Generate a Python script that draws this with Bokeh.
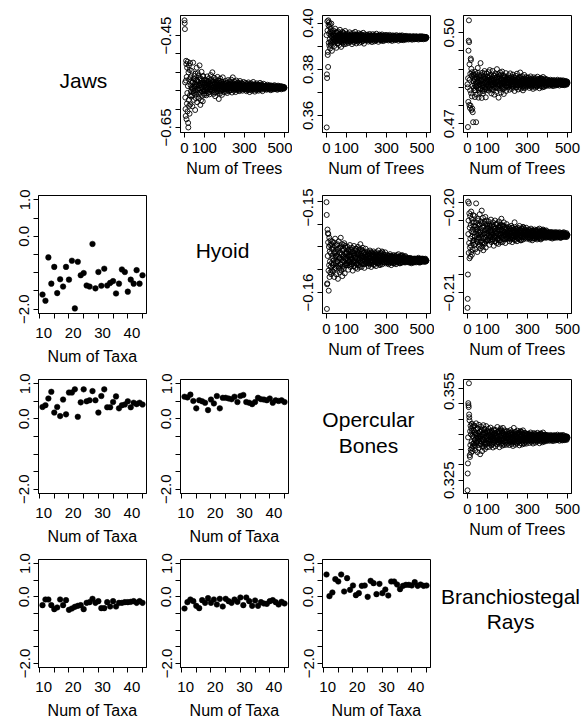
from bokeh.plotting import figure
from bokeh.layouts import row, column
from bokeh.models import Range1d, FixedTicker, Label
from bokeh.embed import file_html
from bokeh.resources import INLINE

MINUS = "\u2212"
FSP = "\u2007"

# ---------------- data ----------------
trees = list(range(1, 31)) + list(range(32, 501, 2))
trees_odd = list(range(31, 500, 2))
taxa = list(range(11, 46))

jaws_trees1 = [
    -0.417, -0.423, -0.436, -0.552, -0.585, -0.610, -0.625, -0.548, -0.505, -0.512,
    -0.632, -0.540, -0.598, -0.520, -0.575, -0.615, -0.507, -0.560, -0.640, -0.650,
    -0.530, -0.590, -0.515, -0.603, -0.545, -0.620, -0.525, -0.580, -0.510, -0.600,
    -0.541, -0.583, -0.527, -0.566, -0.604, -0.552, -0.509, -0.571, -0.590, -0.545,
    -0.562, -0.612, -0.533, -0.578, -0.556, -0.520, -0.595, -0.549, -0.568, -0.537,
    -0.586, -0.558, -0.515, -0.574, -0.601, -0.543, -0.565, -0.529, -0.581, -0.553,
    -0.593, -0.538, -0.570, -0.547, -0.579,
    -0.552, -0.571, -0.546, -0.563, -0.580, -0.557, -0.539, -0.566, -0.575, -0.549,
    -0.561, -0.543, -0.578, -0.555, -0.568, -0.536, -0.559, -0.572, -0.547, -0.530,
    -0.564, -0.551, -0.577, -0.542, -0.569, -0.556, -0.582, -0.545, -0.562, -0.574,
    -0.553, -0.566, -0.540, -0.571, -0.558, -0.588, -0.548, -0.565, -0.576, -0.544,
    -0.560, -0.570, -0.550, -0.579, -0.557, -0.541, -0.567, -0.554, -0.573, -0.562,
    -0.555, -0.568, -0.549, -0.572, -0.560, -0.553, -0.575, -0.562, -0.547, -0.566,
    -0.558, -0.571, -0.551, -0.564, -0.557, -0.569, -0.546, -0.563, -0.574, -0.554,
    -0.541, -0.565, -0.559, -0.570, -0.550, -0.567, -0.556, -0.573, -0.561, -0.548,
    -0.566, -0.558, -0.552, -0.569, -0.562, -0.555, -0.571, -0.559, -0.549, -0.564,
    -0.557, -0.568, -0.553, -0.562, -0.570, -0.556, -0.565, -0.551, -0.567, -0.560,
    -0.558, -0.567, -0.553, -0.564, -0.571, -0.560, -0.555, -0.569, -0.562, -0.552,
    -0.566, -0.559, -0.573, -0.556, -0.563, -0.568, -0.554, -0.561, -0.570, -0.557,
    -0.565, -0.551, -0.562, -0.567, -0.559, -0.572, -0.556, -0.564, -0.560, -0.569,
    -0.554, -0.566, -0.561, -0.557, -0.570, -0.563, -0.558, -0.567, -0.553, -0.565,
    -0.560, -0.568, -0.556, -0.562, -0.571, -0.559, -0.564, -0.555, -0.566, -0.561,
    -0.561, -0.566, -0.559, -0.564, -0.568, -0.562, -0.557, -0.565, -0.563, -0.560,
    -0.567, -0.562, -0.558, -0.565, -0.561, -0.569, -0.563, -0.559, -0.566, -0.562,
    -0.564, -0.560, -0.567, -0.563, -0.558, -0.565, -0.561, -0.566, -0.563, -0.560,
    -0.564, -0.568, -0.562, -0.559, -0.565, -0.563, -0.561, -0.566, -0.564, -0.560,
    -0.563, -0.567, -0.562, -0.565, -0.561, -0.564, -0.563, -0.566, -0.562, -0.564,
]
jaws_trees1_odd = [
    -0.558, -0.571, -0.549, -0.563, -0.580, -0.552, -0.566, -0.544, -0.575, -0.560,
    -0.538, -0.569, -0.555, -0.586, -0.561, -0.547, -0.573, -0.557, -0.532, -0.565,
    -0.551, -0.578, -0.559, -0.543, -0.568, -0.554, -0.591, -0.562, -0.548, -0.572,
    -0.556, -0.539, -0.567, -0.553, -0.576,
    -0.560, -0.553, -0.568, -0.557, -0.564, -0.549, -0.571, -0.562, -0.555, -0.566,
    -0.551, -0.559, -0.573, -0.556, -0.563, -0.547, -0.567, -0.558, -0.561, -0.554,
    -0.569, -0.557, -0.564, -0.550, -0.562, -0.574, -0.555, -0.566, -0.559, -0.552,
    -0.563, -0.570, -0.556, -0.561, -0.548, -0.567, -0.558, -0.564, -0.553, -0.560,
    -0.572, -0.557, -0.565, -0.551, -0.562, -0.568, -0.555, -0.563, -0.559, -0.566,
    -0.561, -0.556, -0.566, -0.559, -0.564, -0.553, -0.568, -0.560, -0.557, -0.565,
    -0.562, -0.555, -0.569, -0.558, -0.563, -0.552, -0.566, -0.560, -0.564, -0.557,
    -0.567, -0.559, -0.562, -0.554, -0.565, -0.561, -0.558, -0.568, -0.556, -0.563,
    -0.560, -0.566, -0.557, -0.562, -0.553, -0.564, -0.559, -0.567, -0.561, -0.556,
    -0.563, -0.558, -0.565, -0.560, -0.562, -0.555, -0.566, -0.559, -0.564, -0.561,
    -0.562, -0.558, -0.566, -0.560, -0.564, -0.557, -0.567, -0.561, -0.559, -0.565,
    -0.563, -0.558, -0.568, -0.560, -0.564, -0.556, -0.566, -0.562, -0.559, -0.565,
    -0.561, -0.567, -0.560, -0.563, -0.557, -0.565, -0.562, -0.559, -0.566, -0.561,
    -0.564, -0.558, -0.563, -0.560, -0.567, -0.562, -0.559, -0.565, -0.561, -0.563,
    -0.558, -0.566, -0.562, -0.560, -0.564, -0.561, -0.565, -0.559, -0.563, -0.562,
    -0.563, -0.561, -0.566, -0.562, -0.564, -0.560, -0.565, -0.563, -0.561, -0.566,
    -0.562, -0.564, -0.560, -0.565, -0.563, -0.562, -0.566, -0.561, -0.564, -0.563,
    -0.560, -0.565, -0.562, -0.564, -0.561, -0.566, -0.563, -0.562, -0.565, -0.561,
    -0.564, -0.563, -0.566, -0.562, -0.561, -0.565, -0.563, -0.564, -0.562, -0.565,
    -0.563, -0.561, -0.564, -0.563, -0.565, -0.562, -0.564, -0.563, -0.564, -0.563,
]

jaws_trees2 = [
    0.3948, 0.3548, 0.3778, 0.3762, 0.4008, 0.3968, 0.3862, 0.3875, 0.3810, 0.4012,
    0.3990, 0.3915, 0.4003, 0.3955, 0.3902, 0.3985, 0.3930, 0.3995, 0.3890, 0.3962,
    0.3920, 0.3975, 0.3905, 0.3945, 0.3998, 0.3912, 0.3958, 0.3880, 0.3940, 0.3965,
    0.3952, 0.3918, 0.3968, 0.3930, 0.3901, 0.3945, 0.3976, 0.3925, 0.3940, 0.3893,
    0.3958, 0.3934, 0.3912, 0.3964, 0.3928, 0.3947, 0.3905, 0.3938, 0.3971, 0.3921,
    0.3950, 0.3897, 0.3943, 0.3931, 0.3962, 0.3915, 0.3937, 0.3955, 0.3908, 0.3944,
    0.3926, 0.3966, 0.3933, 0.3910, 0.3949,
    0.3941, 0.3922, 0.3955, 0.3933, 0.3914, 0.3948, 0.3928, 0.3960, 0.3937, 0.3919,
    0.3945, 0.3931, 0.3952, 0.3909, 0.3939, 0.3926, 0.3957, 0.3935, 0.3917, 0.3947,
    0.3930, 0.3962, 0.3924, 0.3942, 0.3912, 0.3950, 0.3934, 0.3920, 0.3944, 0.3929,
    0.3956, 0.3938, 0.3915, 0.3946, 0.3927, 0.3953, 0.3932, 0.3918, 0.3949, 0.3936,
    0.3923, 0.3958, 0.3940, 0.3911, 0.3943, 0.3930, 0.3951, 0.3925, 0.3939, 0.3946,
    0.3939, 0.3926, 0.3950, 0.3933, 0.3920, 0.3944, 0.3930, 0.3953, 0.3936, 0.3923,
    0.3947, 0.3932, 0.3941, 0.3918, 0.3938, 0.3952, 0.3928, 0.3944, 0.3935, 0.3921,
    0.3948, 0.3931, 0.3940, 0.3925, 0.3954, 0.3936, 0.3929, 0.3945, 0.3933, 0.3919,
    0.3942, 0.3937, 0.3950, 0.3927, 0.3939, 0.3946, 0.3924, 0.3934, 0.3951, 0.3930,
    0.3943, 0.3922, 0.3938, 0.3947, 0.3929, 0.3941, 0.3935, 0.3926, 0.3949, 0.3937,
    0.3938, 0.3929, 0.3946, 0.3934, 0.3925, 0.3942, 0.3931, 0.3949, 0.3936, 0.3927,
    0.3944, 0.3933, 0.3940, 0.3923, 0.3937, 0.3947, 0.3930, 0.3943, 0.3935, 0.3926,
    0.3945, 0.3932, 0.3939, 0.3928, 0.3948, 0.3936, 0.3931, 0.3942, 0.3934, 0.3924,
    0.3941, 0.3937, 0.3946, 0.3929, 0.3938, 0.3944, 0.3927, 0.3935, 0.3947, 0.3932,
    0.3940, 0.3926, 0.3939, 0.3943, 0.3930, 0.3941, 0.3936, 0.3928, 0.3945, 0.3937,
    0.3937, 0.3932, 0.3942, 0.3935, 0.3929, 0.3940, 0.3934, 0.3944, 0.3937, 0.3931,
    0.3941, 0.3935, 0.3939, 0.3928, 0.3936, 0.3943, 0.3933, 0.3940, 0.3936, 0.3930,
    0.3942, 0.3934, 0.3938, 0.3931, 0.3943, 0.3937, 0.3933, 0.3940, 0.3935, 0.3929,
    0.3939, 0.3937, 0.3942, 0.3932, 0.3938, 0.3941, 0.3931, 0.3936, 0.3943, 0.3934,
    0.3939, 0.3930, 0.3938, 0.3941, 0.3933, 0.3939, 0.3936, 0.3932, 0.3940, 0.3937,
]
jaws_trees2_odd = [
    0.3938, 0.3925, 0.3950, 0.3931, 0.3944, 0.3917, 0.3957, 0.3935, 0.3922, 0.3946,
    0.3929, 0.3961, 0.3937, 0.3914, 0.3942, 0.3933, 0.3952, 0.3920, 0.3940, 0.3927,
    0.3955, 0.3936, 0.3918, 0.3947, 0.3930, 0.3943, 0.3924, 0.3959, 0.3934, 0.3921,
    0.3948, 0.3932, 0.3939, 0.3916, 0.3945,
    0.3936, 0.3928, 0.3945, 0.3932, 0.3940, 0.3924, 0.3948, 0.3934, 0.3929, 0.3943,
    0.3937, 0.3921, 0.3946, 0.3931, 0.3941, 0.3926, 0.3939, 0.3950, 0.3933, 0.3927,
    0.3944, 0.3935, 0.3923, 0.3942, 0.3930, 0.3947, 0.3936, 0.3925, 0.3940, 0.3932,
    0.3945, 0.3928, 0.3938, 0.3949, 0.3931, 0.3942, 0.3926, 0.3937, 0.3944, 0.3933,
    0.3922, 0.3941, 0.3935, 0.3929, 0.3946, 0.3934, 0.3939, 0.3927, 0.3943, 0.3936,
    0.3937, 0.3931, 0.3943, 0.3934, 0.3940, 0.3928, 0.3945, 0.3935, 0.3930, 0.3942,
    0.3936, 0.3927, 0.3944, 0.3933, 0.3939, 0.3929, 0.3941, 0.3946, 0.3934, 0.3930,
    0.3943, 0.3936, 0.3926, 0.3940, 0.3932, 0.3944, 0.3937, 0.3929, 0.3941, 0.3933,
    0.3945, 0.3931, 0.3938, 0.3946, 0.3932, 0.3942, 0.3928, 0.3937, 0.3943, 0.3934,
    0.3927, 0.3940, 0.3936, 0.3931, 0.3944, 0.3935, 0.3939, 0.3930, 0.3942, 0.3936,
    0.3937, 0.3932, 0.3941, 0.3935, 0.3939, 0.3930, 0.3943, 0.3936, 0.3933, 0.3940,
    0.3937, 0.3929, 0.3942, 0.3934, 0.3938, 0.3931, 0.3940, 0.3944, 0.3935, 0.3932,
    0.3941, 0.3936, 0.3930, 0.3939, 0.3933, 0.3942, 0.3937, 0.3931, 0.3940, 0.3934,
    0.3943, 0.3932, 0.3938, 0.3944, 0.3933, 0.3941, 0.3930, 0.3937, 0.3942, 0.3935,
    0.3929, 0.3939, 0.3936, 0.3932, 0.3942, 0.3935, 0.3938, 0.3931, 0.3941, 0.3936,
    0.3937, 0.3934, 0.3940, 0.3936, 0.3938, 0.3933, 0.3941, 0.3937, 0.3935, 0.3939,
    0.3937, 0.3932, 0.3940, 0.3935, 0.3938, 0.3934, 0.3939, 0.3942, 0.3936, 0.3933,
    0.3940, 0.3937, 0.3932, 0.3938, 0.3935, 0.3941, 0.3937, 0.3934, 0.3939, 0.3935,
    0.3941, 0.3933, 0.3938, 0.3942, 0.3934, 0.3940, 0.3932, 0.3937, 0.3941, 0.3936,
    0.3933, 0.3938, 0.3937, 0.3934, 0.3940, 0.3936, 0.3938, 0.3933, 0.3939, 0.3937,
]

jaws_trees3 = [
    0.4830, 0.4820, 0.4689, 0.4850, 0.4772, 0.4941, 0.4974, 0.5041, 0.4969, 0.4762,
    0.4896, 0.4845, 0.4752, 0.4810, 0.4865, 0.4760, 0.4915, 0.4910, 0.4800, 0.4881,
    0.4745, 0.4858, 0.4790, 0.4870, 0.4750, 0.4825, 0.4738, 0.4862, 0.4705, 0.4840,
    0.4862, 0.4810, 0.4847, 0.4788, 0.4871, 0.4823, 0.4705, 0.4855, 0.4796, 0.4840,
    0.4884, 0.4817, 0.4786, 0.4860, 0.4829, 0.4802, 0.4851, 0.4900, 0.4815, 0.4843,
    0.4785, 0.4868, 0.4826, 0.4799, 0.4857, 0.4834, 0.4808, 0.4874, 0.4820, 0.4848,
    0.4787, 0.4838, 0.4866, 0.4812, 0.4845,
    0.4855, 0.4822, 0.4870, 0.4809, 0.4843, 0.4877, 0.4816, 0.4838, 0.4861, 0.4800,
    0.4848, 0.4827, 0.4874, 0.4811, 0.4835, 0.4858, 0.4796, 0.4845, 0.4820, 0.4866,
    0.4831, 0.4805, 0.4852, 0.4880, 0.4818, 0.4840, 0.4863, 0.4786, 0.4829, 0.4850,
    0.4812, 0.4869, 0.4836, 0.4803, 0.4847, 0.4824, 0.4872, 0.4814, 0.4841, 0.4859,
    0.4798, 0.4833, 0.4856, 0.4819, 0.4845, 0.4867, 0.4808, 0.4837, 0.4852, 0.4826,
    0.4848, 0.4821, 0.4860, 0.4832, 0.4812, 0.4845, 0.4866, 0.4827, 0.4839, 0.4855,
    0.4815, 0.4842, 0.4829, 0.4862, 0.4824, 0.4836, 0.4851, 0.4808, 0.4844, 0.4830,
    0.4858, 0.4819, 0.4838, 0.4865, 0.4826, 0.4847, 0.4813, 0.4835, 0.4853, 0.4822,
    0.4841, 0.4869, 0.4831, 0.4816, 0.4849, 0.4828, 0.4857, 0.4834, 0.4810, 0.4843,
    0.4825, 0.4861, 0.4837, 0.4818, 0.4846, 0.4832, 0.4854, 0.4823, 0.4840, 0.4850,
    0.4843, 0.4825, 0.4852, 0.4833, 0.4818, 0.4846, 0.4829, 0.4856, 0.4837, 0.4821,
    0.4849, 0.4831, 0.4840, 0.4815, 0.4836, 0.4853, 0.4826, 0.4844, 0.4834, 0.4819,
    0.4850, 0.4828, 0.4841, 0.4823, 0.4855, 0.4835, 0.4827, 0.4847, 0.4832, 0.4817,
    0.4845, 0.4838, 0.4851, 0.4824, 0.4839, 0.4848, 0.4820, 0.4833, 0.4854, 0.4829,
    0.4842, 0.4822, 0.4837, 0.4849, 0.4828, 0.4843, 0.4834, 0.4825, 0.4846, 0.4836,
    0.4838, 0.4829, 0.4843, 0.4833, 0.4825, 0.4840, 0.4831, 0.4845, 0.4835, 0.4827,
    0.4842, 0.4832, 0.4837, 0.4824, 0.4836, 0.4844, 0.4830, 0.4839, 0.4834, 0.4826,
    0.4841, 0.4831, 0.4837, 0.4828, 0.4845, 0.4835, 0.4830, 0.4840, 0.4833, 0.4826,
    0.4839, 0.4836, 0.4842, 0.4829, 0.4835, 0.4840, 0.4828, 0.4834, 0.4843, 0.4831,
    0.4838, 0.4827, 0.4836, 0.4841, 0.4830, 0.4837, 0.4834, 0.4829, 0.4839, 0.4835,
]
jaws_trees3_odd = [
    0.4840, 0.4818, 0.4852, 0.4829, 0.4845, 0.4810, 0.4863, 0.4834, 0.4822, 0.4849,
    0.4826, 0.4868, 0.4837, 0.4812, 0.4843, 0.4831, 0.4857, 0.4815, 0.4839, 0.4824,
    0.4860, 0.4833, 0.4808, 0.4847, 0.4828, 0.4854, 0.4820, 0.4866, 0.4836, 0.4814,
    0.4850, 0.4830, 0.4842, 0.4817, 0.4856,
    0.4838, 0.4826, 0.4851, 0.4832, 0.4845, 0.4819, 0.4857, 0.4835, 0.4828, 0.4848,
    0.4840, 0.4815, 0.4853, 0.4830, 0.4843, 0.4822, 0.4846, 0.4860, 0.4834, 0.4825,
    0.4850, 0.4837, 0.4818, 0.4844, 0.4829, 0.4855, 0.4839, 0.4823, 0.4847, 0.4831,
    0.4858, 0.4827, 0.4841, 0.4862, 0.4830, 0.4849, 0.4820, 0.4836, 0.4852, 0.4833,
    0.4816, 0.4844, 0.4838, 0.4826, 0.4854, 0.4835, 0.4842, 0.4824, 0.4848, 0.4837,
    0.4837, 0.4828, 0.4846, 0.4833, 0.4842, 0.4823, 0.4850, 0.4835, 0.4829, 0.4844,
    0.4838, 0.4821, 0.4848, 0.4831, 0.4841, 0.4825, 0.4843, 0.4853, 0.4834, 0.4827,
    0.4845, 0.4836, 0.4820, 0.4840, 0.4830, 0.4849, 0.4837, 0.4826, 0.4843, 0.4832,
    0.4852, 0.4828, 0.4839, 0.4855, 0.4831, 0.4844, 0.4822, 0.4836, 0.4847, 0.4833,
    0.4819, 0.4841, 0.4837, 0.4828, 0.4850, 0.4834, 0.4840, 0.4826, 0.4845, 0.4836,
    0.4836, 0.4830, 0.4843, 0.4833, 0.4840, 0.4826, 0.4846, 0.4835, 0.4829, 0.4841,
    0.4837, 0.4824, 0.4845, 0.4832, 0.4839, 0.4827, 0.4842, 0.4848, 0.4834, 0.4828,
    0.4843, 0.4836, 0.4823, 0.4838, 0.4831, 0.4846, 0.4836, 0.4827, 0.4841, 0.4832,
    0.4847, 0.4829, 0.4838, 0.4849, 0.4831, 0.4842, 0.4825, 0.4835, 0.4844, 0.4833,
    0.4822, 0.4839, 0.4836, 0.4829, 0.4845, 0.4834, 0.4838, 0.4828, 0.4843, 0.4835,
    0.4835, 0.4831, 0.4839, 0.4833, 0.4837, 0.4829, 0.4841, 0.4834, 0.4831, 0.4838,
    0.4835, 0.4828, 0.4840, 0.4832, 0.4837, 0.4830, 0.4839, 0.4842, 0.4834, 0.4830,
    0.4839, 0.4835, 0.4828, 0.4837, 0.4832, 0.4841, 0.4835, 0.4830, 0.4838, 0.4833,
    0.4842, 0.4831, 0.4836, 0.4843, 0.4832, 0.4839, 0.4829, 0.4834, 0.4840, 0.4833,
    0.4828, 0.4837, 0.4835, 0.4831, 0.4840, 0.4834, 0.4836, 0.4830, 0.4839, 0.4834,
]

hyoid_trees1 = [
    -0.1501, -0.1515, -0.1618, -0.1591, -0.1590, -0.1531, -0.1560, -0.1535, -0.1545, -0.1536,
    -0.1576, -0.1598, -0.1550, -0.1570, -0.1540, -0.1583, -0.1555, -0.1566, -0.1548, -0.1578,
    -0.1543, -0.1572, -0.1557, -0.1580, -0.1547, -0.1568, -0.1552, -0.1576, -0.1544, -0.1563,
    -0.1550, -0.1577, -0.1545, -0.1568, -0.1583, -0.1556, -0.1541, -0.1573, -0.1560, -0.1580,
    -0.1548, -0.1566, -0.1553, -0.1585, -0.1571, -0.1544, -0.1562, -0.1578, -0.1551, -0.1569,
    -0.1540, -0.1575, -0.1558, -0.1547, -0.1582, -0.1565, -0.1552, -0.1574, -0.1559, -0.1546,
    -0.1579, -0.1563, -0.1549, -0.1570, -0.1557,
    -0.1556, -0.1570, -0.1550, -0.1564, -0.1575, -0.1553, -0.1567, -0.1559, -0.1548, -0.1572,
    -0.1561, -0.1555, -0.1569, -0.1551, -0.1563, -0.1576, -0.1557, -0.1566, -0.1549, -0.1571,
    -0.1560, -0.1554, -0.1573, -0.1562, -0.1552, -0.1568, -0.1558, -0.1574, -0.1550, -0.1565,
    -0.1557, -0.1570, -0.1553, -0.1563, -0.1547, -0.1567, -0.1560, -0.1572, -0.1555, -0.1564,
    -0.1551, -0.1569, -0.1561, -0.1556, -0.1573, -0.1559, -0.1566, -0.1552, -0.1568, -0.1562,
    -0.1559, -0.1568, -0.1555, -0.1565, -0.1571, -0.1557, -0.1563, -0.1569, -0.1554, -0.1566,
    -0.1560, -0.1572, -0.1556, -0.1564, -0.1558, -0.1567, -0.1561, -0.1555, -0.1570, -0.1562,
    -0.1557, -0.1566, -0.1559, -0.1571, -0.1563, -0.1556, -0.1568, -0.1560, -0.1565, -0.1554,
    -0.1567, -0.1561, -0.1558, -0.1570, -0.1562, -0.1557, -0.1566, -0.1563, -0.1555, -0.1569,
    -0.1560, -0.1564, -0.1558, -0.1567, -0.1561, -0.1565, -0.1556, -0.1568, -0.1562, -0.1564,
    -0.1561, -0.1567, -0.1559, -0.1565, -0.1569, -0.1560, -0.1564, -0.1568, -0.1558, -0.1566,
    -0.1562, -0.1570, -0.1560, -0.1565, -0.1561, -0.1567, -0.1563, -0.1559, -0.1568, -0.1564,
    -0.1560, -0.1566, -0.1562, -0.1569, -0.1564, -0.1559, -0.1567, -0.1563, -0.1565, -0.1558,
    -0.1566, -0.1562, -0.1561, -0.1568, -0.1564, -0.1560, -0.1566, -0.1563, -0.1559, -0.1567,
    -0.1562, -0.1565, -0.1561, -0.1566, -0.1563, -0.1565, -0.1560, -0.1567, -0.1563, -0.1564,
    -0.1563, -0.1566, -0.1562, -0.1565, -0.1567, -0.1563, -0.1565, -0.1567, -0.1562, -0.1566,
    -0.1564, -0.1568, -0.1563, -0.1566, -0.1564, -0.1567, -0.1565, -0.1563, -0.1567, -0.1565,
    -0.1563, -0.1566, -0.1564, -0.1567, -0.1565, -0.1563, -0.1566, -0.1564, -0.1566, -0.1562,
    -0.1566, -0.1564, -0.1564, -0.1567, -0.1565, -0.1563, -0.1566, -0.1565, -0.1563, -0.1566,
    -0.1564, -0.1566, -0.1564, -0.1566, -0.1565, -0.1566, -0.1564, -0.1566, -0.1565, -0.1565,
]
hyoid_trees1_odd = [
    -0.1560, -0.1570, -0.1553, -0.1565, -0.1557, -0.1574, -0.1549, -0.1562, -0.1568, -0.1555,
    -0.1571, -0.1559, -0.1547, -0.1566, -0.1561, -0.1552, -0.1573, -0.1563, -0.1556, -0.1569,
    -0.1550, -0.1564, -0.1576, -0.1558, -0.1567, -0.1554, -0.1572, -0.1561, -0.1548, -0.1566,
    -0.1557, -0.1570, -0.1563, -0.1551, -0.1568,
    -0.1562, -0.1557, -0.1568, -0.1560, -0.1565, -0.1554, -0.1570, -0.1561, -0.1556, -0.1566,
    -0.1563, -0.1553, -0.1569, -0.1559, -0.1564, -0.1555, -0.1567, -0.1571, -0.1560, -0.1557,
    -0.1566, -0.1562, -0.1552, -0.1565, -0.1558, -0.1569, -0.1563, -0.1555, -0.1567, -0.1559,
    -0.1570, -0.1556, -0.1564, -0.1572, -0.1558, -0.1566, -0.1553, -0.1562, -0.1568, -0.1560,
    -0.1554, -0.1565, -0.1561, -0.1557, -0.1569, -0.1562, -0.1564, -0.1556, -0.1567, -0.1561,
    -0.1563, -0.1559, -0.1567, -0.1561, -0.1565, -0.1557, -0.1568, -0.1562, -0.1558, -0.1566,
    -0.1563, -0.1556, -0.1568, -0.1560, -0.1565, -0.1558, -0.1566, -0.1569, -0.1561, -0.1559,
    -0.1566, -0.1563, -0.1557, -0.1565, -0.1560, -0.1567, -0.1563, -0.1558, -0.1566, -0.1561,
    -0.1568, -0.1559, -0.1564, -0.1569, -0.1560, -0.1566, -0.1557, -0.1563, -0.1567, -0.1561,
    -0.1556, -0.1565, -0.1562, -0.1559, -0.1567, -0.1562, -0.1564, -0.1559, -0.1566, -0.1562,
    -0.1564, -0.1561, -0.1567, -0.1563, -0.1565, -0.1560, -0.1567, -0.1563, -0.1561, -0.1566,
    -0.1564, -0.1560, -0.1567, -0.1562, -0.1565, -0.1561, -0.1566, -0.1568, -0.1563, -0.1561,
    -0.1566, -0.1564, -0.1560, -0.1565, -0.1562, -0.1567, -0.1564, -0.1561, -0.1566, -0.1563,
    -0.1567, -0.1561, -0.1565, -0.1568, -0.1562, -0.1566, -0.1560, -0.1564, -0.1567, -0.1563,
    -0.1560, -0.1565, -0.1564, -0.1561, -0.1567, -0.1563, -0.1565, -0.1561, -0.1566, -0.1564,
    -0.1565, -0.1563, -0.1566, -0.1564, -0.1565, -0.1563, -0.1566, -0.1564, -0.1563, -0.1566,
    -0.1565, -0.1563, -0.1567, -0.1564, -0.1565, -0.1563, -0.1566, -0.1567, -0.1564, -0.1563,
    -0.1566, -0.1565, -0.1563, -0.1565, -0.1564, -0.1566, -0.1565, -0.1563, -0.1566, -0.1564,
    -0.1567, -0.1563, -0.1565, -0.1567, -0.1564, -0.1566, -0.1563, -0.1565, -0.1566, -0.1564,
    -0.1563, -0.1565, -0.1565, -0.1563, -0.1566, -0.1564, -0.1565, -0.1563, -0.1566, -0.1565,
]

hyoid_trees2 = [
    -0.2117, -0.2107, -0.2080, -0.1999, -0.2035, -0.2020, -0.2056, -0.2001, -0.2045, -0.2012,
    -0.2062, -0.2028, -0.2050, -0.2015, -0.2040, -0.2060, -0.2025, -0.2048, -0.2010, -0.2055,
    -0.2032, -0.2018, -0.2058, -0.2038, -0.2022, -0.2052, -0.2030, -0.2045, -0.2014, -0.2042,
    -0.2022, -0.2047, -0.2015, -0.2038, -0.2052, -0.2027, -0.2001, -0.2043, -0.2030, -0.2055,
    -0.2018, -0.2036, -0.2024, -0.2049, -0.2040, -0.2013, -0.2033, -0.2051, -0.2021, -0.2039,
    -0.2009, -0.2045, -0.2028, -0.2017, -0.2053, -0.2035, -0.2023, -0.2046, -0.2031, -0.2016,
    -0.2050, -0.2034, -0.2020, -0.2042, -0.2026,
    -0.2028, -0.2042, -0.2021, -0.2036, -0.2047, -0.2025, -0.2039, -0.2031, -0.2019, -0.2044,
    -0.2033, -0.2026, -0.2041, -0.2022, -0.2035, -0.2048, -0.2029, -0.2038, -0.2020, -0.2043,
    -0.2032, -0.2024, -0.2045, -0.2034, -0.2023, -0.2040, -0.2030, -0.2046, -0.2021, -0.2037,
    -0.2027, -0.2042, -0.2025, -0.2035, -0.2018, -0.2039, -0.2031, -0.2044, -0.2026, -0.2036,
    -0.2022, -0.2041, -0.2033, -0.2027, -0.2045, -0.2030, -0.2038, -0.2024, -0.2040, -0.2034,
    -0.2031, -0.2040, -0.2027, -0.2037, -0.2043, -0.2029, -0.2035, -0.2041, -0.2026, -0.2038,
    -0.2032, -0.2044, -0.2028, -0.2036, -0.2030, -0.2039, -0.2033, -0.2022, -0.2042, -0.2034,
    -0.2029, -0.2038, -0.2031, -0.2043, -0.2035, -0.2028, -0.2040, -0.2032, -0.2037, -0.2026,
    -0.2039, -0.2033, -0.2030, -0.2042, -0.2034, -0.2029, -0.2038, -0.2035, -0.2027, -0.2041,
    -0.2032, -0.2036, -0.2030, -0.2039, -0.2033, -0.2037, -0.2028, -0.2040, -0.2034, -0.2036,
    -0.2032, -0.2039, -0.2030, -0.2036, -0.2041, -0.2031, -0.2035, -0.2040, -0.2029, -0.2037,
    -0.2033, -0.2042, -0.2031, -0.2036, -0.2032, -0.2039, -0.2034, -0.2030, -0.2040, -0.2035,
    -0.2031, -0.2038, -0.2033, -0.2041, -0.2035, -0.2030, -0.2039, -0.2034, -0.2036, -0.2029,
    -0.2038, -0.2033, -0.2032, -0.2040, -0.2035, -0.2031, -0.2037, -0.2034, -0.2030, -0.2039,
    -0.2033, -0.2036, -0.2032, -0.2038, -0.2034, -0.2037, -0.2031, -0.2039, -0.2034, -0.2036,
    -0.2034, -0.2038, -0.2033, -0.2036, -0.2039, -0.2034, -0.2036, -0.2039, -0.2033, -0.2037,
    -0.2035, -0.2040, -0.2034, -0.2037, -0.2035, -0.2038, -0.2036, -0.2033, -0.2039, -0.2036,
    -0.2034, -0.2037, -0.2035, -0.2039, -0.2036, -0.2034, -0.2038, -0.2035, -0.2037, -0.2033,
    -0.2038, -0.2035, -0.2035, -0.2039, -0.2036, -0.2034, -0.2037, -0.2036, -0.2034, -0.2038,
    -0.2035, -0.2037, -0.2035, -0.2038, -0.2036, -0.2037, -0.2035, -0.2038, -0.2036, -0.2036,
]
hyoid_trees2_odd = [
    -0.2033, -0.2042, -0.2026, -0.2038, -0.2030, -0.2046, -0.2022, -0.2035, -0.2041, -0.2028,
    -0.2044, -0.2032, -0.2020, -0.2039, -0.2034, -0.2025, -0.2047, -0.2036, -0.2029, -0.2043,
    -0.2023, -0.2037, -0.2049, -0.2031, -0.2040, -0.2027, -0.2045, -0.2034, -0.2021, -0.2039,
    -0.2030, -0.2043, -0.2036, -0.2024, -0.2041,
    -0.2034, -0.2029, -0.2040, -0.2032, -0.2037, -0.2026, -0.2042, -0.2033, -0.2028, -0.2038,
    -0.2035, -0.2025, -0.2041, -0.2031, -0.2036, -0.2027, -0.2039, -0.2043, -0.2032, -0.2029,
    -0.2038, -0.2034, -0.2024, -0.2037, -0.2030, -0.2041, -0.2035, -0.2027, -0.2039, -0.2031,
    -0.2042, -0.2028, -0.2036, -0.2044, -0.2030, -0.2038, -0.2025, -0.2034, -0.2040, -0.2032,
    -0.2026, -0.2037, -0.2033, -0.2029, -0.2041, -0.2034, -0.2036, -0.2028, -0.2039, -0.2033,
    -0.2035, -0.2031, -0.2039, -0.2033, -0.2037, -0.2029, -0.2040, -0.2034, -0.2030, -0.2038,
    -0.2035, -0.2028, -0.2040, -0.2032, -0.2037, -0.2030, -0.2038, -0.2041, -0.2033, -0.2031,
    -0.2038, -0.2035, -0.2029, -0.2037, -0.2032, -0.2040, -0.2035, -0.2030, -0.2038, -0.2033,
    -0.2041, -0.2031, -0.2036, -0.2042, -0.2032, -0.2038, -0.2029, -0.2035, -0.2039, -0.2033,
    -0.2028, -0.2037, -0.2034, -0.2031, -0.2039, -0.2034, -0.2036, -0.2031, -0.2038, -0.2034,
    -0.2036, -0.2032, -0.2039, -0.2034, -0.2037, -0.2031, -0.2039, -0.2035, -0.2032, -0.2038,
    -0.2036, -0.2031, -0.2040, -0.2033, -0.2037, -0.2032, -0.2038, -0.2040, -0.2034, -0.2032,
    -0.2038, -0.2036, -0.2031, -0.2037, -0.2033, -0.2039, -0.2036, -0.2032, -0.2038, -0.2034,
    -0.2040, -0.2032, -0.2036, -0.2041, -0.2033, -0.2038, -0.2031, -0.2035, -0.2039, -0.2034,
    -0.2031, -0.2037, -0.2035, -0.2032, -0.2039, -0.2035, -0.2036, -0.2032, -0.2038, -0.2035,
    -0.2036, -0.2034, -0.2038, -0.2035, -0.2037, -0.2033, -0.2038, -0.2036, -0.2034, -0.2037,
    -0.2036, -0.2033, -0.2039, -0.2035, -0.2037, -0.2034, -0.2038, -0.2039, -0.2035, -0.2034,
    -0.2038, -0.2036, -0.2033, -0.2037, -0.2035, -0.2038, -0.2036, -0.2034, -0.2037, -0.2035,
    -0.2039, -0.2034, -0.2036, -0.2039, -0.2035, -0.2038, -0.2034, -0.2036, -0.2038, -0.2035,
    -0.2033, -0.2037, -0.2036, -0.2034, -0.2038, -0.2036, -0.2037, -0.2034, -0.2038, -0.2036,
]

opercular_trees1 = [
    0.3217, 0.3272, 0.3305, 0.3390, 0.3502, 0.3495, 0.3489, 0.3567, 0.3465, 0.3456,
    0.3446, 0.3332, 0.3326, 0.3410, 0.3365, 0.3428, 0.3350, 0.3400, 0.3340, 0.3420,
    0.3375, 0.3435, 0.3355, 0.3412, 0.3345, 0.3395, 0.3360, 0.3425, 0.3370, 0.3430,
    0.3412, 0.3365, 0.3428, 0.3381, 0.3348, 0.3403, 0.3436, 0.3372, 0.3395, 0.3342,
    0.3420, 0.3386, 0.3355, 0.3431, 0.3377, 0.3408, 0.3335, 0.3392, 0.3425, 0.3368,
    0.3415, 0.3345, 0.3401, 0.3383, 0.3430, 0.3360, 0.3397, 0.3418, 0.3352, 0.3406,
    0.3375, 0.3427, 0.3388, 0.3358, 0.3410,
    0.3400, 0.3370, 0.3418, 0.3382, 0.3359, 0.3408, 0.3376, 0.3422, 0.3391, 0.3364,
    0.3412, 0.3385, 0.3398, 0.3357, 0.3389, 0.3416, 0.3372, 0.3404, 0.3380, 0.3361,
    0.3414, 0.3378, 0.3395, 0.3367, 0.3424, 0.3387, 0.3374, 0.3409, 0.3383, 0.3358,
    0.3406, 0.3392, 0.3419, 0.3369, 0.3396, 0.3411, 0.3363, 0.3384, 0.3421, 0.3377,
    0.3402, 0.3365, 0.3393, 0.3413, 0.3373, 0.3399, 0.3388, 0.3366, 0.3410, 0.3390,
    0.3395, 0.3372, 0.3410, 0.3383, 0.3365, 0.3403, 0.3377, 0.3414, 0.3389, 0.3368,
    0.3406, 0.3381, 0.3397, 0.3362, 0.3386, 0.3421, 0.3374, 0.3400, 0.3385, 0.3366,
    0.3408, 0.3379, 0.3393, 0.3370, 0.3412, 0.3388, 0.3375, 0.3404, 0.3384, 0.3364,
    0.3401, 0.3391, 0.3411, 0.3371, 0.3394, 0.3407, 0.3367, 0.3382, 0.3413, 0.3378,
    0.3398, 0.3369, 0.3390, 0.3405, 0.3376, 0.3396, 0.3387, 0.3370, 0.3402, 0.3389,
    0.3392, 0.3378, 0.3402, 0.3385, 0.3372, 0.3398, 0.3381, 0.3406, 0.3389, 0.3375,
    0.3400, 0.3383, 0.3394, 0.3370, 0.3387, 0.3404, 0.3379, 0.3397, 0.3386, 0.3373,
    0.3401, 0.3382, 0.3392, 0.3376, 0.3405, 0.3388, 0.3380, 0.3399, 0.3385, 0.3371,
    0.3396, 0.3390, 0.3403, 0.3377, 0.3393, 0.3400, 0.3374, 0.3384, 0.3406, 0.3381,
    0.3395, 0.3376, 0.3389, 0.3399, 0.3380, 0.3394, 0.3387, 0.3378, 0.3398, 0.3388,
    0.3390, 0.3382, 0.3396, 0.3386, 0.3379, 0.3393, 0.3384, 0.3398, 0.3389, 0.3380,
    0.3395, 0.3385, 0.3391, 0.3378, 0.3388, 0.3397, 0.3383, 0.3393, 0.3387, 0.3380,
    0.3396, 0.3384, 0.3390, 0.3381, 0.3399, 0.3388, 0.3383, 0.3394, 0.3386, 0.3379,
    0.3392, 0.3389, 0.3397, 0.3382, 0.3390, 0.3395, 0.3380, 0.3387, 0.3398, 0.3384,
    0.3391, 0.3381, 0.3389, 0.3394, 0.3383, 0.3391, 0.3388, 0.3382, 0.3393, 0.3389,
]
opercular_trees1_odd = [
    0.3392, 0.3370, 0.3405, 0.3381, 0.3398, 0.3362, 0.3415, 0.3387, 0.3374, 0.3401,
    0.3379, 0.3419, 0.3390, 0.3365, 0.3396, 0.3384, 0.3410, 0.3368, 0.3393, 0.3377,
    0.3413, 0.3386, 0.3360, 0.3400, 0.3380, 0.3407, 0.3372, 0.3417, 0.3389, 0.3366,
    0.3403, 0.3383, 0.3395, 0.3369, 0.3409,
    0.3391, 0.3378, 0.3404, 0.3384, 0.3397, 0.3371, 0.3410, 0.3388, 0.3380, 0.3401,
    0.3393, 0.3368, 0.3406, 0.3382, 0.3396, 0.3374, 0.3399, 0.3413, 0.3386, 0.3377,
    0.3403, 0.3390, 0.3370, 0.3397, 0.3381, 0.3408, 0.3392, 0.3375, 0.3400, 0.3383,
    0.3411, 0.3379, 0.3394, 0.3414, 0.3382, 0.3402, 0.3372, 0.3389, 0.3405, 0.3385,
    0.3369, 0.3398, 0.3391, 0.3378, 0.3407, 0.3388, 0.3395, 0.3376, 0.3401, 0.3390,
    0.3390, 0.3380, 0.3400, 0.3385, 0.3395, 0.3375, 0.3405, 0.3388, 0.3381, 0.3398,
    0.3391, 0.3373, 0.3403, 0.3384, 0.3394, 0.3377, 0.3397, 0.3407, 0.3387, 0.3379,
    0.3401, 0.3390, 0.3374, 0.3396, 0.3383, 0.3404, 0.3391, 0.3378, 0.3399, 0.3385,
    0.3406, 0.3381, 0.3393, 0.3408, 0.3383, 0.3400, 0.3376, 0.3389, 0.3402, 0.3386,
    0.3372, 0.3397, 0.3390, 0.3380, 0.3403, 0.3388, 0.3394, 0.3379, 0.3399, 0.3389,
    0.3389, 0.3383, 0.3396, 0.3386, 0.3393, 0.3380, 0.3399, 0.3388, 0.3383, 0.3395,
    0.3390, 0.3378, 0.3398, 0.3385, 0.3392, 0.3380, 0.3394, 0.3401, 0.3387, 0.3382,
    0.3396, 0.3389, 0.3379, 0.3393, 0.3384, 0.3398, 0.3390, 0.3381, 0.3395, 0.3386,
    0.3400, 0.3383, 0.3391, 0.3401, 0.3384, 0.3396, 0.3380, 0.3388, 0.3397, 0.3386,
    0.3378, 0.3393, 0.3389, 0.3383, 0.3398, 0.3387, 0.3392, 0.3382, 0.3395, 0.3389,
    0.3389, 0.3385, 0.3393, 0.3387, 0.3391, 0.3383, 0.3394, 0.3388, 0.3385, 0.3392,
    0.3390, 0.3382, 0.3395, 0.3386, 0.3391, 0.3384, 0.3392, 0.3396, 0.3388, 0.3384,
    0.3393, 0.3389, 0.3383, 0.3391, 0.3386, 0.3394, 0.3390, 0.3384, 0.3392, 0.3387,
    0.3395, 0.3385, 0.3390, 0.3396, 0.3386, 0.3393, 0.3383, 0.3389, 0.3394, 0.3387,
    0.3382, 0.3391, 0.3389, 0.3385, 0.3394, 0.3388, 0.3390, 0.3384, 0.3392, 0.3389,
]

hyoid_taxa = [
    -1.60, -1.77, -0.58, -1.30, -0.84, -1.56, -1.18, -1.38, -0.84, -1.19,
    -0.67, -1.98, -0.70, -1.07, -1.01, -1.35, -1.38, -0.21, -1.43, -0.98,
    -1.36, -0.89, -1.35, -1.28, -1.23, -1.57, -1.30, -0.91, -0.98, -1.52,
    -1.19, -1.30, -0.93, -1.30, -1.07,
]
opercular_taxa1 = [
    0.34, 0.39, 0.58, 0.77, 0.18, 0.34, 0.08, 0.55, 0.13, 0.75,
    0.75, 0.84, 0.06, 0.47, 0.84, 0.50, 0.53, 0.79, 0.53, 0.18,
    0.65, 0.84, 0.33, 0.33, 0.48, 0.64, 0.30, 0.39, 0.41, 0.50,
    0.33, 0.46, 0.42, 0.46, 0.41,
]
opercular_taxa2 = [
    0.63, 0.61, 0.69, 0.51, 0.30, 0.53, 0.50, 0.46, 0.25, 0.55,
    0.44, 0.65, 0.30, 0.60, 0.60, 0.58, 0.56, 0.63, 0.48, 0.65,
    0.68, 0.48, 0.46, 0.42, 0.48, 0.60, 0.56, 0.55, 0.53, 0.58,
    0.46, 0.53, 0.51, 0.53, 0.48,
]
branch_taxa1 = [
    -0.25, -0.08, -0.08, -0.25, -0.37, -0.32, -0.08, -0.25, -0.10, -0.39,
    -0.35, -0.30, -0.27, -0.25, -0.37, -0.18, -0.16, -0.06, -0.18, -0.13,
    -0.34, -0.34, -0.16, -0.29, -0.13, -0.29, -0.18, -0.18, -0.16, -0.16,
    -0.15, -0.13, -0.18, -0.13, -0.18,
]
branch_taxa2 = [
    -0.35, -0.16, -0.08, -0.13, -0.27, -0.34, -0.10, -0.18, -0.04, -0.18,
    -0.08, -0.23, -0.06, -0.29, -0.06, -0.13, -0.18, -0.08, -0.15, -0.02,
    -0.25, -0.02, -0.13, -0.27, -0.11, -0.27, -0.16, -0.20, -0.21, -0.13,
    -0.10, -0.16, -0.23, -0.15, -0.20,
]
branch_taxa3 = [
    0.67, 0.02, 0.13, 0.53, 0.46, 0.67, 0.16, 0.56, 0.21, 0.34,
    0.05, 0.11, 0.33, 0.34, 0.00, 0.48, 0.41, 0.08, 0.39, 0.11,
    0.22, 0.04, 0.46, 0.46, 0.37, 0.23, 0.33, 0.36, 0.36, 0.34,
    0.44, 0.33, 0.37, 0.33, 0.34,
]

for arr in (jaws_trees1, jaws_trees2, jaws_trees3, hyoid_trees1, hyoid_trees2, opercular_trees1):
    assert len(arr) == len(trees), len(arr)
for arr in (jaws_trees1_odd, jaws_trees2_odd, jaws_trees3_odd, hyoid_trees1_odd,
            hyoid_trees2_odd, opercular_trees1_odd):
    assert len(arr) == len(trees_odd), len(arr)
for arr in (hyoid_taxa, opercular_taxa1, opercular_taxa2, branch_taxa1, branch_taxa2, branch_taxa3):
    assert len(arr) == len(taxa), len(arr)

trees_ticks = [0, 100, 200, 300, 400, 500]
trees_tick_labels = ["0", "100", "", "300", "", "500"]
taxa_ticks = [10, 15, 20, 25, 30, 35, 40, 45]
taxa_tick_labels = [FSP + "10", "", FSP + "20", "", FSP + "30", "", FSP + "40", ""]
coef_ticks = [-2.0, -1.5, -1.0, -0.5, 0.0, 0.5, 1.0]
coef_tick_labels = [MINUS + "2.0", "", "", "", "0.0", "", "1.0"]

labels = ["Jaws", "Hyoid", "Opercular\nBones", "Branchiostegal\nRays"]

# ---------------- layout ----------------
FONT = "Liberation Sans"
COL_W = [150, 142, 142, 154]
COL_BL = [38, 30, 30, 29]
ROW_H = [188, 184, 180, 169]
ROW_BT = [15, 7, 7, 7]
ROW_F = [117, 118, 114, 115]
F_W = 108


def base_fig(ci, ri, xr, yr, bare=False):
    w, h = COL_W[ci], ROW_H[ri]
    if bare:
        p = figure(width=w, height=h, x_range=xr, y_range=yr,
                   output_backend="svg", toolbar_location=None,
                   x_axis_location=None, y_axis_location=None,
                   min_border_left=0, min_border_right=0,
                   min_border_top=0, min_border_bottom=0)
        p.outline_line_color = None
    else:
        bl, bt, fh = COL_BL[ci], ROW_BT[ri], ROW_F[ri]
        p = figure(width=w, height=h, x_range=xr, y_range=yr,
                   output_backend="svg", toolbar_location=None,
                   min_border_left=bl, min_border_right=w - bl - F_W,
                   min_border_top=bt, min_border_bottom=h - bt - fh)
    p.background_fill_color = "white"
    p.border_fill_color = "white"
    p.xgrid.visible = False
    p.ygrid.visible = False
    return p


def style(p, xticks, xlabs, xtitle, yticks, ylabs):
    p.outline_line_color = "black"
    p.outline_line_width = 1
    p.outline_line_alpha = 1
    xa, ya = p.xaxis[0], p.yaxis[0]
    xa.ticker = FixedTicker(ticks=xticks)
    xa.major_label_overrides = dict(zip(xticks, xlabs))
    ya.ticker = FixedTicker(ticks=yticks)
    ya.major_label_overrides = dict(zip(yticks, ylabs))
    ya.major_label_orientation = "vertical"
    for ax in (xa, ya):
        ax.axis_line_color = "black"
        ax.major_tick_line_color = "black"
        ax.major_tick_out = 5
        ax.major_tick_in = 0
        ax.minor_tick_line_color = None
        ax.major_label_text_font = FONT
        ax.major_label_text_font_size = "15px"
        ax.major_label_text_color = "black"
    xa.major_label_standoff = 5
    ya.major_label_standoff = 4
    xa.axis_label = xtitle
    xa.axis_label_text_font = FONT
    xa.axis_label_text_font_size = "16px"
    xa.axis_label_text_font_style = "normal"
    xa.axis_label_text_color = "black"
    xa.axis_label_standoff = 4


def trees_panel(ci, ri, yvals, yvals_odd, ylo, yhi, yticks, ylabs):
    p = base_fig(ci, ri, Range1d(-19, 520), Range1d(ylo, yhi))
    p.scatter(trees + trees_odd, yvals + yvals_odd, marker="circle", size=5.0,
              fill_color=None, line_color="black", line_width=0.9)
    style(p, trees_ticks, trees_tick_labels, "Num of Trees", yticks, ylabs)
    return p


def taxa_panel(ci, ri, yvals):
    p = base_fig(ci, ri, Range1d(9.64, 46.36), Range1d(-2.12, 1.12))
    p.scatter(taxa, yvals, marker="circle", size=5.6, fill_color="black",
              line_color="black", line_width=0.5)
    style(p, taxa_ticks, taxa_tick_labels, "Num of Taxa", coef_ticks, coef_tick_labels)
    return p


def label_panel(ci, ri, text, fx, fys):
    # frames of a row are aligned, so fy is measured on the row's plot frame
    p = base_fig(ci, ri, Range1d(0, 1), Range1d(0, 1), bare=True)
    for line, fy in zip(text.split("\n"), fys):
        p.add_layout(Label(x=fx, y=fy, text=line, text_align="center",
                           text_baseline="middle", text_font=FONT,
                           text_font_size="21px", text_color="black"))
    return p


grid = [
    [label_panel(0, 0, labels[0], 0.553, [0.444]),
     trees_panel(1, 0, jaws_trees1, jaws_trees1_odd, -0.6609, -0.4065,
                 [-0.65, -0.61, -0.57, -0.53, -0.49, -0.45],
                 [MINUS + "0.65", "", "", "", "", MINUS + "0.45"]),
     trees_panel(2, 0, jaws_trees2, jaws_trees2_odd, 0.3526, 0.4033,
                 [0.36, 0.37, 0.38, 0.39, 0.40],
                 ["0.36", "", "0.38", "", "0.40"]),
     trees_panel(3, 0, jaws_trees3, jaws_trees3_odd, 0.4671, 0.5057,
                 [0.47, 0.476, 0.482, 0.488, 0.494, 0.50],
                 ["0.47", "", "", "", "", "0.50"])],
    [taxa_panel(0, 1, hyoid_taxa),
     label_panel(1, 1, labels[1], 0.507, [0.534]),
     trees_panel(2, 1, hyoid_trees1, hyoid_trees1_odd, -0.1623, -0.14937,
                 [-0.16, -0.1575, -0.155, -0.1525, -0.15],
                 [MINUS + "0.16", "", "", "", MINUS + "0.15"]),
     trees_panel(3, 1, hyoid_trees2, hyoid_trees2_odd, -0.21233, -0.19922,
                 [-0.21, -0.208, -0.206, -0.204, -0.202, -0.20],
                 [MINUS + "0.21", "", "", "", "", MINUS + "0.20"])],
    [taxa_panel(0, 2, opercular_taxa1),
     taxa_panel(1, 2, opercular_taxa2),
     label_panel(2, 2, labels[2], 0.535, [0.649, 0.421]),
     trees_panel(3, 2, opercular_trees1, opercular_trees1_odd, 0.32066, 0.35793,
                 [0.325, 0.33, 0.335, 0.34, 0.345, 0.35, 0.355],
                 ["0.325", "", "", "", "", "", "0.355"])],
    [taxa_panel(0, 3, branch_taxa1),
     taxa_panel(1, 3, branch_taxa2),
     taxa_panel(2, 3, branch_taxa3),
     label_panel(3, 3, labels[3], 0.494, [0.661, 0.426])],
]

layout = column([row(r, spacing=0) for r in grid], spacing=0)

with open("out.html", "w") as f:
    f.write(file_html(layout, INLINE))
